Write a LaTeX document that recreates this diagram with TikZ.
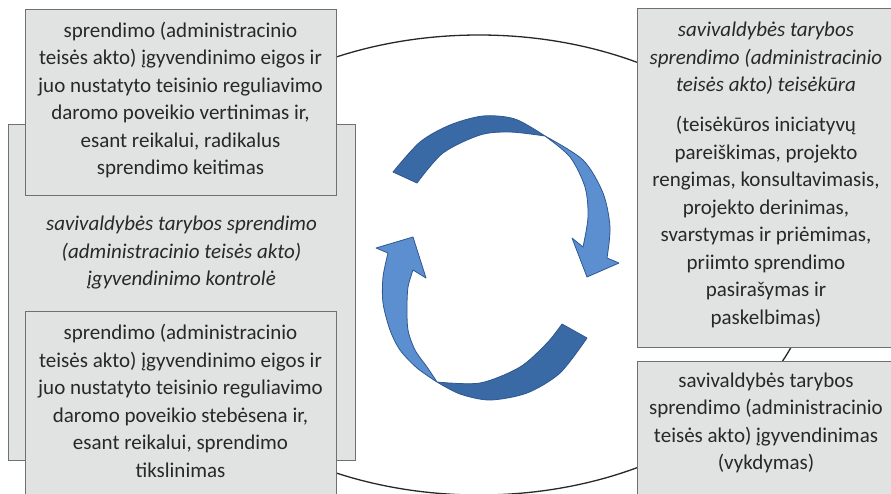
\documentclass[tikz,border=0pt]{standalone}
\usepackage{fontspec}
\setmainfont{Carlito}
\definecolor{boxfill}{RGB}{225,226,226}
\definecolor{boxline}{RGB}{112,112,112}
\definecolor{ringcol}{RGB}{40,40,40}
\definecolor{arrdark}{RGB}{58,106,165}
\definecolor{arrlight}{RGB}{91,143,207}
\definecolor{arrline}{RGB}{47,88,145}
\definecolor{txtcol}{RGB}{40,40,40}
\begin{document}
\begin{tikzpicture}[x=1pt,y=-1pt,
  box/.style={draw=boxline, line width=1.2pt, fill=boxfill, inner sep=0pt},
  txt/.style={text=txtcol, align=center, font=\fontsize{21}{27.5}\selectfont, inner sep=0pt},
  darkpart/.style={fill=arrdark, draw=arrline, line width=0.8pt, line join=round},
  lightpart/.style={fill=arrlight, draw=arrline, line width=0.8pt, line join=round},
  ring/.style={draw=ringcol, line width=1.3pt}
]
\useasboundingbox (0,0) rectangle (891,493);
\clip (0,0) rectangle (891,493);
\fill[white] (0,0) rectangle (891,493);
% cycle ring
\draw[ring] (479,265) ellipse [x radius=334pt, y radius=230pt];
% boxes
\node[box, anchor=north west, minimum width=347pt, minimum height=336pt] (boxB) at (8,124) {};
\node[box, anchor=north west, minimum width=311pt, minimum height=186pt] (boxA) at (25,9) {};
\node[box, anchor=north west, minimum width=311pt, minimum height=189pt] (boxC) at (25,311) {};
\node[box, anchor=north west, minimum width=263pt, minimum height=339pt] (boxD) at (637,8) {};
\node[box, anchor=north west, minimum width=263pt, minimum height=150pt] (boxE) at (637,361) {};
% texts
\node[txt] (tA) at (180.5,100) {sprendimo (administracinio\\teisės akto) įgyvendinimo eigos ir\\juo nustatyto teisinio reguliavimo\\daromo poveikio vertinimas ir,\\esant reikalui, radikalus\\sprendimo keitimas};
\node[txt, font=\fontsize{21}{27.5}\selectfont\itshape] (tB) at (181.5,253) {savivaldybės tarybos sprendimo\\(administracinio teisės akto)\\įgyvendinimo kontrolė};
\node[txt] (tC) at (180.5,401) {sprendimo (administracinio\\teisės akto) įgyvendinimo eigos ir\\juo nustatyto teisinio reguliavimo\\daromo poveikio stebėsena ir,\\esant reikalui, sprendimo\\tikslinimas};
\node[txt] (tD) at (766,175) {\textit{savivaldybės tarybos}\\\textit{sprendimo (administracinio}\\\textit{teisės akto) teisėkūra}\\[12.5pt](teisėkūros iniciatyvų\\pareiškimas, projekto\\rengimas, konsultavimasis,\\projekto derinimas,\\svarstymas ir priėmimas,\\priimto sprendimo\\pasirašymas ir\\paskelbimas)};
\node[txt] (tE) at (766,423) {savivaldybės tarybos\\sprendimo (administracinio\\teisės akto) įgyvendinimas\\(vykdymas)};
% upper circular arrow
\filldraw[darkpart] plot[smooth] coordinates {(393,172) (420,142) (450,125) (483,116) (515,119) (545,136)}
  -- plot[smooth] coordinates {(545,136) (510,132) (480,135) (443,153) (417,183)} -- cycle;
\filldraw[lightpart] plot[smooth] coordinates {(545,136) (570,157) (585,187) (588,217) (583,247)}
  -- (572,238) -- (587,277) -- (619,263) -- (607,258)
  -- plot[smooth] coordinates {(607,258) (610,227) (603,193) (583,160) (545,136)} -- cycle;
% lower circular arrow
\filldraw[darkpart] plot[smooth] coordinates {(437,382) (460,394) (490,400) (527,393) (560,373) (587,338)}
  -- (562,324) -- plot[smooth] coordinates {(562,324) (547,343) (520,367) (480,383) (437,382)} -- cycle;
\filldraw[lightpart] plot[smooth] coordinates {(437,382) (417,368) (400,350) (390,330) (383,303) (383,277) (388,253)}
  -- (376,248) -- (413,237) -- (426,278) -- (413,270)
  -- plot[smooth] coordinates {(413,270) (408,287) (407,307) (408,330) (415,350) (427,367) (437,382)} -- cycle;
\end{tikzpicture}
\end{document}
